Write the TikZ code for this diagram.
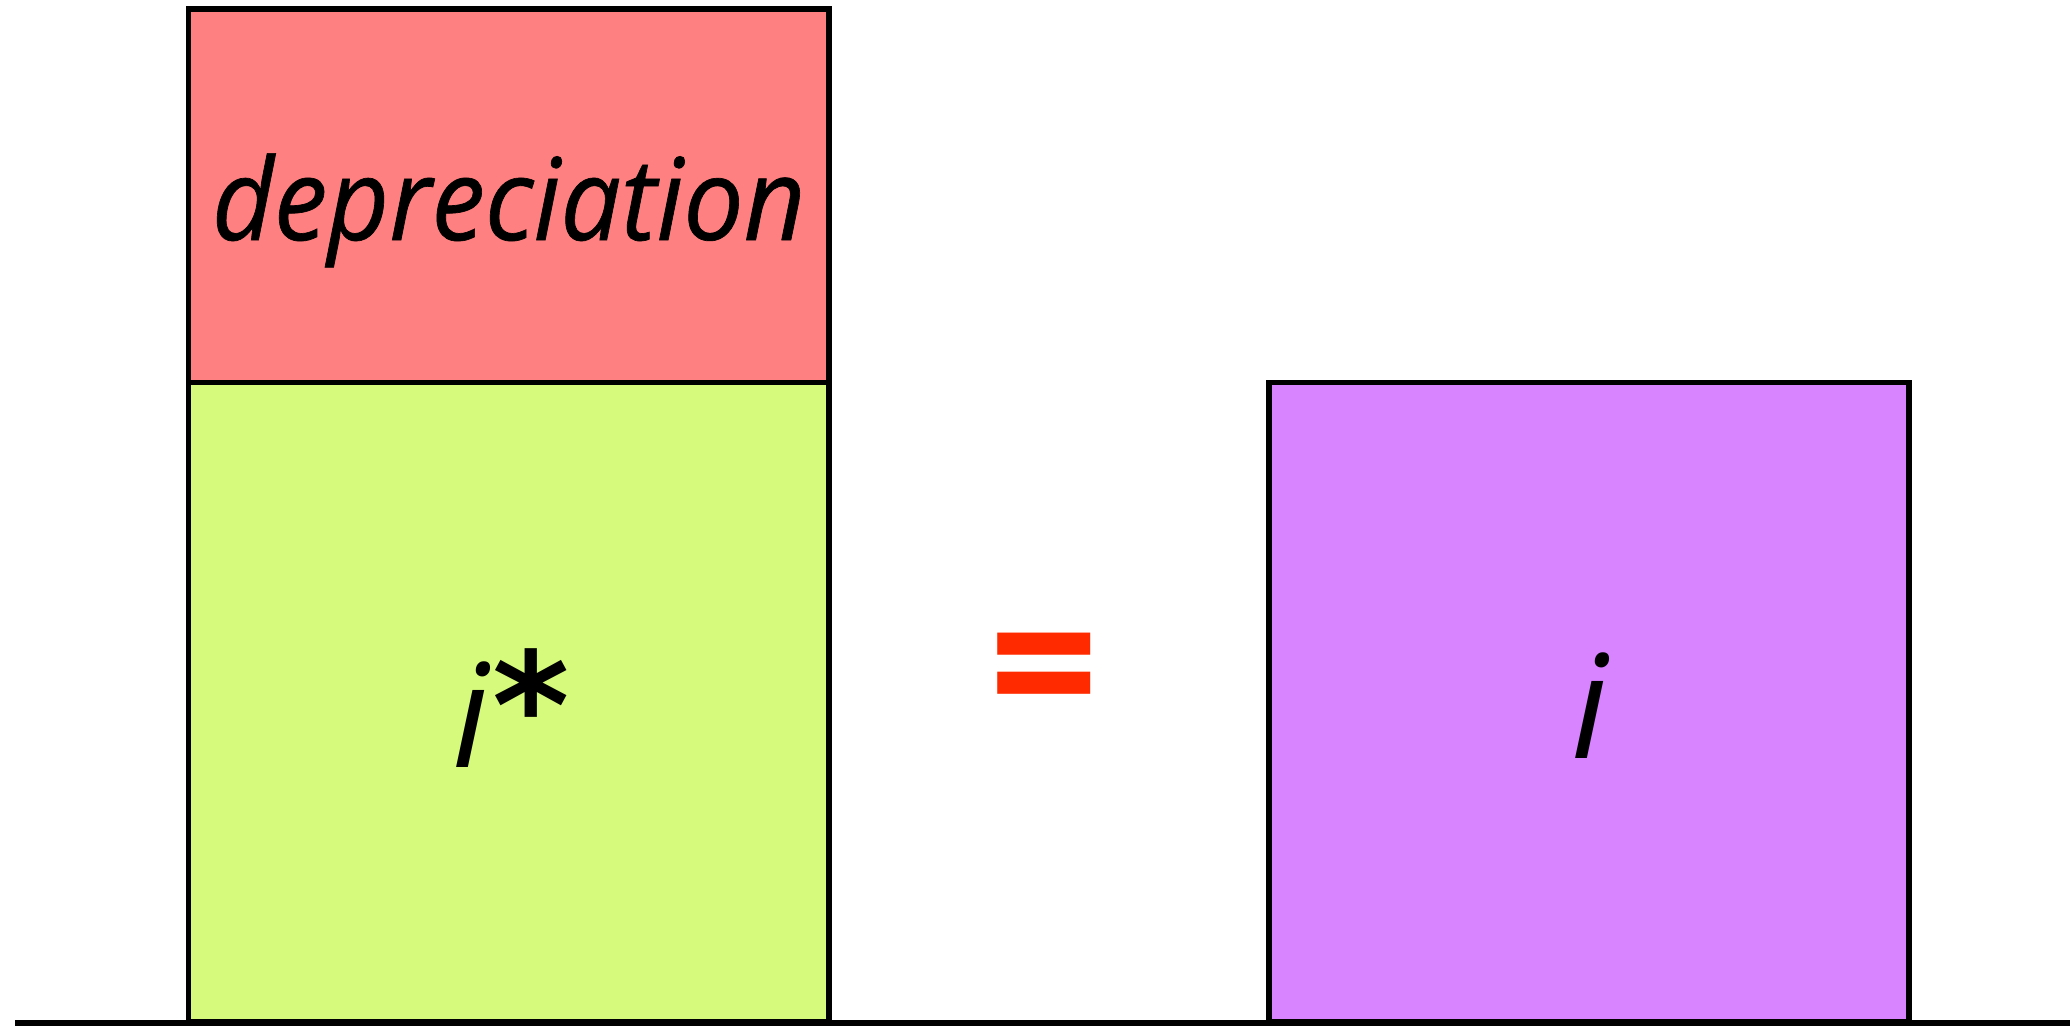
\documentclass[tikz,border=0pt]{standalone}
\usepackage{fontspec}
\setmainfont{Open Sans}
\newfontfamily\astfont{DejaVu Sans}
\newfontfamily\depfont{Open Sans}[FakeBold=0.6]
\definecolor{redc}{RGB}{255,128,128}
\definecolor{greenc}{RGB}{214,250,123}
\definecolor{purplec}{RGB}{216,131,255}
\definecolor{eqc}{RGB}{255,42,0}
\begin{document}
\begin{tikzpicture}[x=0.5pt,y=-0.5pt,
  boxline/.style={draw=black,line width=2.75pt},
  lbl/.style={anchor=base,inner sep=0pt,font=\itshape}]
\useasboundingbox (0,0) rectangle (2070,1025);
% corners
\coordinate (ltl) at (188.5,9);
\coordinate (lmr) at (829,382.5);
\coordinate (lml) at (188.5,382.5);
\coordinate (lbr) at (829,1022);
\coordinate (rtl) at (1269,382.5);
\coordinate (rbr) at (1909,1022);
% boxes
\filldraw[boxline,fill=redc] (ltl) rectangle (lmr);
\filldraw[boxline,fill=greenc] (lml) rectangle (lbr);
\filldraw[boxline,fill=purplec] (rtl) rectangle (rbr);
% baseline
\coordinate (bl) at (15,1022.5);
\coordinate (br) at (2070,1022.5);
\draw[line width=3pt] (bl) -- (br);
% labels
\node[lbl] (dep) at (508.75,240) {\scalebox{0.94}[1]{\fontsize{57pt}{64pt}\depfont\itshape depreciation}};
\node[lbl] (istar) at (511,767) {\fontsize{72pt}{80pt}\selectfont\itshape i\kern2pt\raisebox{4.5pt}{\fontsize{74pt}{80pt}\astfont\upshape\bfseries *}};
\node[lbl] (iright) at (1590,758) {\fontsize{72pt}{80pt}\selectfont\itshape i};
\node[inner sep=0pt,text=eqc] (eq) at (1044,685) {\resizebox{54.7pt}{51.7pt}{\bfseries =}};
\end{tikzpicture}
\end{document}
